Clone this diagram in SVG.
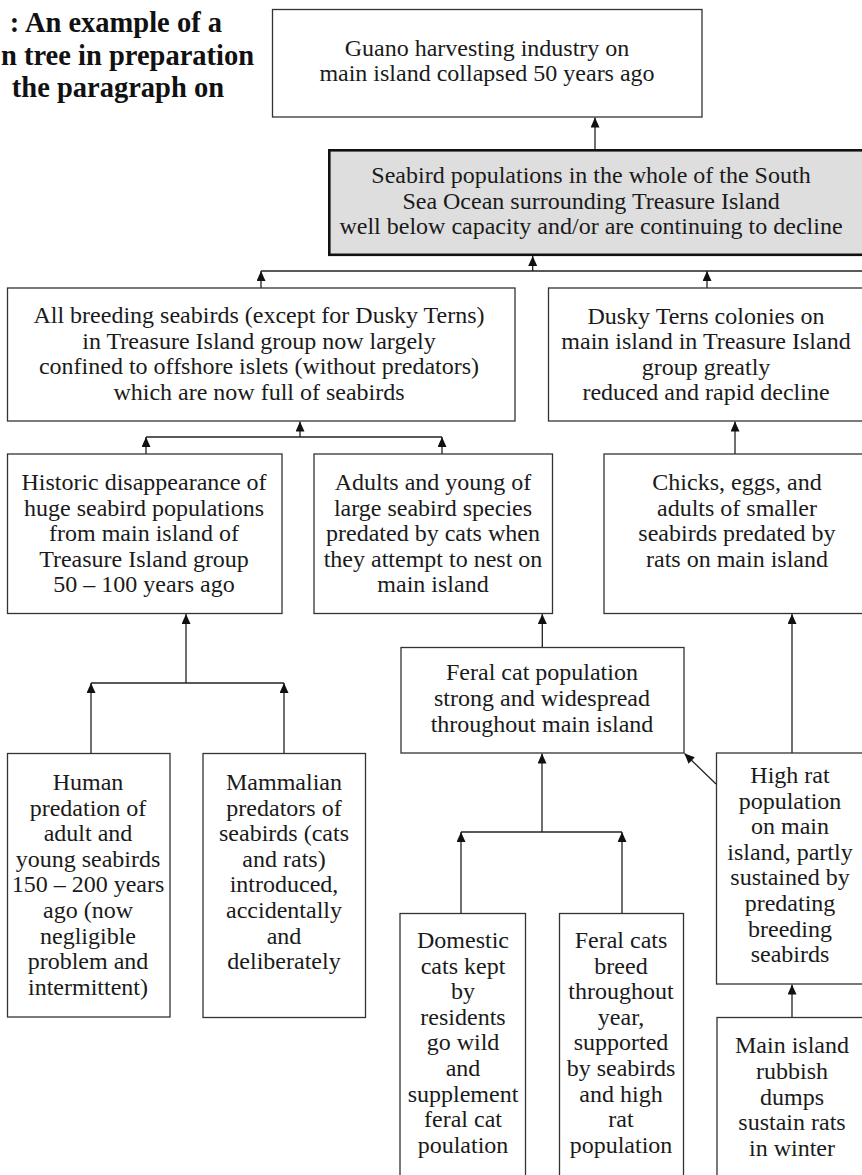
<svg xmlns="http://www.w3.org/2000/svg" width="862" height="1175" viewBox="0 0 862 1175">
<style>
.box{fill:#fff;stroke:#333;stroke-width:1.3}
.key{fill:#dedede;stroke:#111;stroke-width:2.6}
.t{font-family:"Liberation Serif","Times New Roman",serif;font-size:24px;fill:#1a1a1a;text-anchor:middle}
.title{font-family:"Liberation Serif","Times New Roman",serif;font-size:28.5px;font-weight:bold;fill:#111;text-anchor:end}
.c{fill:none;stroke:#222;stroke-width:1.3}
</style>
<defs>
<marker id="ah" markerUnits="userSpaceOnUse" markerWidth="11" markerHeight="10" refX="10" refY="4.5" orient="auto">
<path d="M0,0 L10,4.5 L0,9 z" fill="#111"/>
</marker>
</defs>
<rect width="862" height="1175" fill="#fff"/>
<g id="title">
<text class="title" x="222" y="32">: An example of a</text>
<text class="title" x="1" y="64.5" style="text-anchor:start">n tree in preparation</text>
<text class="title" x="224" y="97">the paragraph on</text>
</g>
<g id="connectors">
<line class="c" x1="595" y1="149" x2="595" y2="117.5" marker-end="url(#ah)"/>
<line class="c" x1="261" y1="271" x2="870" y2="271"/>
<line class="c" x1="532.7" y1="271" x2="532.7" y2="256" marker-end="url(#ah)"/>
<line class="c" x1="261" y1="288" x2="261" y2="271" marker-end="url(#ah)"/>
<line class="c" x1="707" y1="288" x2="707" y2="271" marker-end="url(#ah)"/>
<line class="c" x1="146" y1="437" x2="442" y2="437"/>
<line class="c" x1="300" y1="437" x2="300" y2="421.5" marker-end="url(#ah)"/>
<line class="c" x1="146" y1="454" x2="146" y2="437" marker-end="url(#ah)"/>
<line class="c" x1="442" y1="454" x2="442" y2="437" marker-end="url(#ah)"/>
<line class="c" x1="735" y1="454" x2="735" y2="421.5" marker-end="url(#ah)"/>
<line class="c" x1="91" y1="683" x2="284" y2="683"/>
<line class="c" x1="186" y1="683" x2="186" y2="614" marker-end="url(#ah)"/>
<line class="c" x1="91" y1="753" x2="91" y2="683" marker-end="url(#ah)"/>
<line class="c" x1="284" y1="753" x2="284" y2="683" marker-end="url(#ah)"/>
<line class="c" x1="542.3" y1="647" x2="542.3" y2="614" marker-end="url(#ah)"/>
<line class="c" x1="792" y1="753" x2="792" y2="614" marker-end="url(#ah)"/>
<line class="c" x1="716" y1="784" x2="684.5" y2="753.5" marker-end="url(#ah)"/>
<line class="c" x1="461" y1="832" x2="622" y2="832"/>
<line class="c" x1="542" y1="832" x2="542" y2="753.5" marker-end="url(#ah)"/>
<line class="c" x1="461" y1="913" x2="461" y2="832" marker-end="url(#ah)"/>
<line class="c" x1="622" y1="913" x2="622" y2="832" marker-end="url(#ah)"/>
<line class="c" x1="792" y1="1017" x2="792" y2="984.5" marker-end="url(#ah)"/>
</g>
<g id="guano">
<rect class="box" x="272.5" y="9.5" width="429.5" height="107.5"/>
<text class="t" x="487" y="55.5">Guano harvesting industry on<tspan x="487" dy="25.5">main island collapsed 50 years ago</tspan></text>
</g>
<g id="seabird-populations">
<rect class="key" x="329.3" y="150.3" width="540" height="104.5"/>
<text class="t" x="591" y="183">Seabird populations in the whole of the South<tspan x="591" dy="25.5">Sea Ocean surrounding Treasure Island</tspan><tspan x="591" dy="25.5">well below capacity and/or are continuing to decline</tspan></text>
</g>
<g id="all-breeding">
<rect class="box" x="7.5" y="288" width="507.5" height="133"/>
<text class="t" x="259" y="323">All breeding seabirds (except for Dusky Terns)<tspan x="259" dy="25.6">in Treasure Island group now largely</tspan><tspan x="259" dy="25.6">confined to offshore islets (without predators)</tspan><tspan x="259" dy="25.6">which are now full of seabirds</tspan></text>
</g>
<g id="dusky-terns">
<rect class="box" x="548.5" y="288" width="316" height="133"/>
<text class="t" x="706" y="323.5">Dusky Terns colonies on<tspan x="706" dy="25.6">main island in Treasure Island</tspan><tspan x="706" dy="25.6">group greatly</tspan><tspan x="706" dy="25.6">reduced and rapid decline</tspan></text>
</g>
<g id="historic">
<rect class="box" x="7.5" y="454" width="274.5" height="159.5"/>
<text class="t" x="144" y="490">Historic disappearance of<tspan x="144" dy="25.6">huge seabird populations</tspan><tspan x="144" dy="25.6">from main island of</tspan><tspan x="144" dy="25.6">Treasure Island group</tspan><tspan x="144" dy="25.6">50 – 100 years ago</tspan></text>
</g>
<g id="adults-young">
<rect class="box" x="314" y="454" width="238.5" height="159.5"/>
<text class="t" x="433" y="490">Adults and young of<tspan x="433" dy="25.6">large seabird species</tspan><tspan x="433" dy="25.6">predated by cats when</tspan><tspan x="433" dy="25.6">they attempt to nest on</tspan><tspan x="433" dy="25.6">main island</tspan></text>
</g>
<g id="chicks-eggs">
<rect class="box" x="604" y="454" width="262" height="159.5"/>
<text class="t" x="737" y="490">Chicks, eggs, and<tspan x="737" dy="25.6">adults of smaller</tspan><tspan x="737" dy="25.6">seabirds predated by</tspan><tspan x="737" dy="25.6">rats on main island</tspan></text>
</g>
<g id="feral-cat-population">
<rect class="box" x="401" y="647.5" width="283" height="105.5"/>
<text class="t" x="542" y="680">Feral cat population<tspan x="542" dy="25.8">strong and widespread</tspan><tspan x="542" dy="25.8">throughout main island</tspan></text>
</g>
<g id="human-predation">
<rect class="box" x="7.5" y="753.5" width="162.5" height="263.5"/>
<text class="t" x="88" y="790">Human<tspan x="88" dy="25.6">predation of</tspan><tspan x="88" dy="25.6">adult and</tspan><tspan x="88" dy="25.6">young seabirds</tspan><tspan x="88" dy="25.6">150 – 200 years</tspan><tspan x="88" dy="25.6">ago (now</tspan><tspan x="88" dy="25.6">negligible</tspan><tspan x="88" dy="25.6">problem and</tspan><tspan x="88" dy="25.6">intermittent)</tspan></text>
</g>
<g id="mammalian-predators">
<rect class="box" x="203" y="753.5" width="162.5" height="264"/>
<text class="t" x="284" y="790">Mammalian<tspan x="284" dy="25.6">predators of</tspan><tspan x="284" dy="25.6">seabirds (cats</tspan><tspan x="284" dy="25.6">and rats)</tspan><tspan x="284" dy="25.6">introduced,</tspan><tspan x="284" dy="25.6">accidentally</tspan><tspan x="284" dy="25.6">and</tspan><tspan x="284" dy="25.6">deliberately</tspan></text>
</g>
<g id="high-rat-population">
<rect class="box" x="716.5" y="753" width="150" height="231"/>
<text class="t" x="790" y="783">High rat<tspan x="790" dy="25.6">population</tspan><tspan x="790" dy="25.6">on main</tspan><tspan x="790" dy="25.6">island, partly</tspan><tspan x="790" dy="25.6">sustained by</tspan><tspan x="790" dy="25.6">predating</tspan><tspan x="790" dy="25.6">breeding</tspan><tspan x="790" dy="25.6">seabirds</tspan></text>
</g>
<g id="domestic-cats">
<rect class="box" x="400" y="913.5" width="125.5" height="280"/>
<text class="t" x="463" y="948">Domestic<tspan x="463" dy="25.6">cats kept</tspan><tspan x="463" dy="25.6">by</tspan><tspan x="463" dy="25.6">residents</tspan><tspan x="463" dy="25.6">go wild</tspan><tspan x="463" dy="25.6">and</tspan><tspan x="463" dy="25.6">supplement</tspan><tspan x="463" dy="25.6">feral cat</tspan><tspan x="463" dy="25.6">poulation</tspan></text>
</g>
<g id="feral-cats-breed">
<rect class="box" x="559.5" y="913.5" width="124" height="280"/>
<text class="t" x="621" y="948">Feral cats<tspan x="621" dy="25.6">breed</tspan><tspan x="621" dy="25.6">throughout</tspan><tspan x="621" dy="25.6">year,</tspan><tspan x="621" dy="25.6">supported</tspan><tspan x="621" dy="25.6">by seabirds</tspan><tspan x="621" dy="25.6">and high</tspan><tspan x="621" dy="25.6">rat</tspan><tspan x="621" dy="25.6">population</tspan></text>
</g>
<g id="rubbish-dumps">
<rect class="box" x="717" y="1017.5" width="150" height="180"/>
<text class="t" x="792" y="1053">Main island<tspan x="792" dy="25.8">rubbish</tspan><tspan x="792" dy="25.8">dumps</tspan><tspan x="792" dy="25.8">sustain rats</tspan><tspan x="792" dy="25.8">in winter</tspan></text>
</g>
</svg>
